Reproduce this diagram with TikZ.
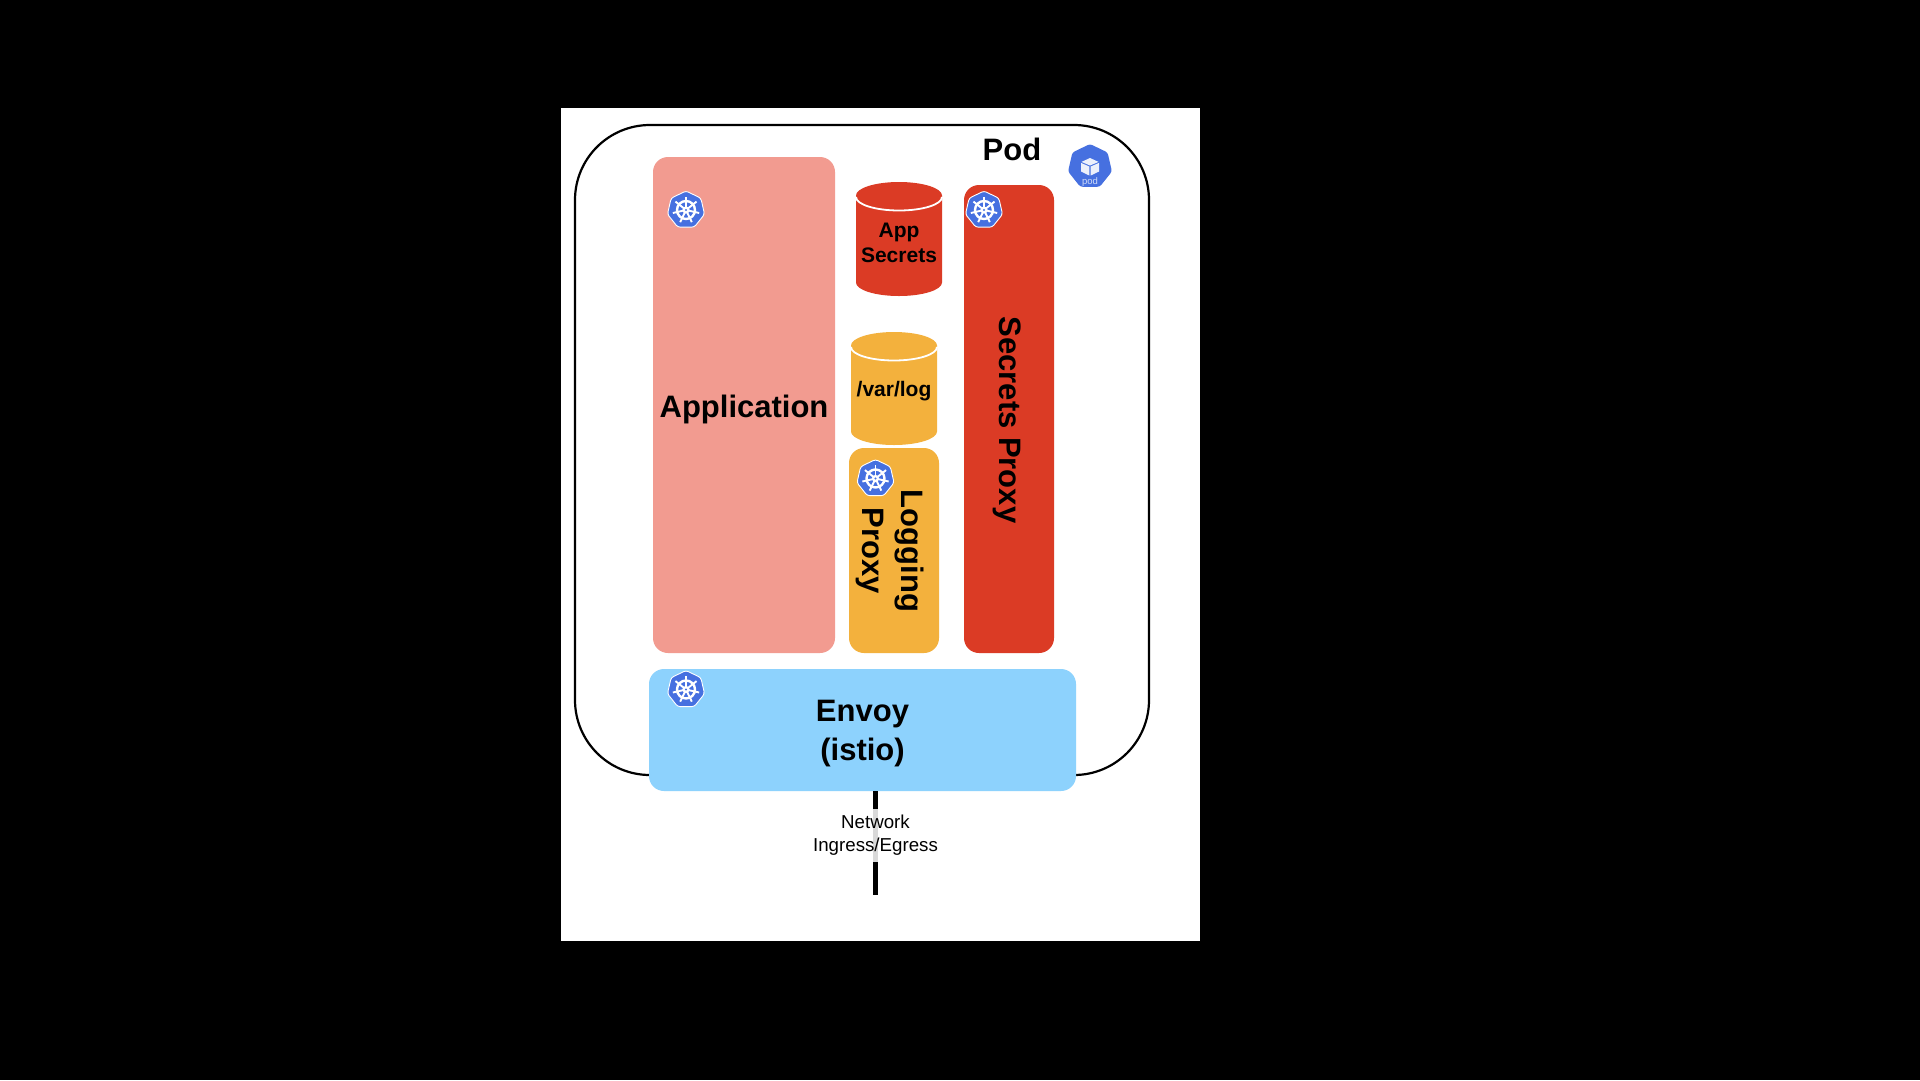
\documentclass[tikz,border=0pt]{standalone}
\usepackage{fontspec}
\setmainfont{Liberation Sans}
\definecolor{appcol}{HTML}{F29B90}
\definecolor{redcol}{HTML}{DB3B25}
\definecolor{orangecol}{HTML}{F3B13D}
\definecolor{bluecol}{HTML}{8DD2FD}
\definecolor{kubecol}{HTML}{4670E0}
\tikzset{
  box/.style={rounded corners=15pt,inner sep=0pt,align=center},
  big/.style={font=\fontsize{31}{39}\selectfont\bfseries,text=black,align=center,inner sep=0pt},
  mid/.style={font=\fontsize{21}{25}\selectfont\bfseries,text=black,align=center,inner sep=0pt},
  wheelicon/.pic={
    \fill[kubecol,draw=white,line width=0.9pt,rounded corners=2.5pt]
      (-90:19) -- (-38.57:19) -- (12.86:19) -- (64.29:19) -- (115.71:19) -- (167.14:19) -- (218.57:19) -- cycle;
    \draw[white,line width=2.4pt] (0,0) circle (9);
    \fill[white] (0,0) circle (3.6);
    \fill[kubecol] (0,0) circle (1.1);
    \foreach \a in {-90,-38.57,12.86,64.29,115.71,167.14,218.57}{
      \draw[white,line width=1.9pt] (\a:2.5) -- (\a:13.5);
    }
  },
  podicon/.pic={
    \fill[kubecol,rounded corners=2.5pt]
      (-90:22.5) -- (-38.57:22.5) -- (12.86:22.5) -- (64.29:22.5) -- (115.71:22.5) -- (167.14:22.5) -- (218.57:22.5) -- cycle;
    \fill[white,opacity=.9] (0,-8.5) -- (8.5,-4.6) -- (0,-1) -- (-8.5,-4.6) -- cycle;
    \fill[white,opacity=.9] (-9,-3.6) -- (-0.7,0) -- (-0.7,9) -- (-9,5) -- cycle;
    \fill[white,opacity=.9] (9,-3.6) -- (0.7,0) -- (0.7,9) -- (9,5) -- cycle;
    \node[text=white,opacity=.75,font=\fontsize{9.5}{10}\selectfont,inner sep=0pt] at (0,15.5) {pod};
  }
}
\begin{document}
\begin{tikzpicture}[x=1pt,y=-1pt]
\useasboundingbox (0,0) rectangle (1920,1080);
\fill[black] (0,0) rectangle (1920,1080);
\fill[white] (561,108) rectangle (1200,941);

% Pod outline
\node[draw=black,line width=2.2pt,rounded corners=75pt,minimum width=574pt,minimum height=650pt,inner sep=0pt] (podbox) at (862,450) {};
\node[big] (podlabel) at (1012,149.5) {Pod};
\pic at (1090,166.5) {podicon};

% Containers
\node[box,fill=appcol,minimum width=182pt,minimum height=496pt,big,text depth=0pt] (application) at (744,405) {\raisebox{-2pt}{Application}};
\node[box,fill=redcol,rotate=-90,minimum width=468pt,minimum height=90pt] (secretsproxy) at (1009,419) {};
\node[big,rotate=-90] (secretslabel) at (1007.5,420) {Secrets Proxy};
\node[box,fill=orangecol,minimum width=90pt,minimum height=205pt] (loggingproxy) at (894,550.5) {};
\node[big,rotate=-90] (logginglabel) at (890.5,551) {Logging\\Proxy};

% App Secrets cylinder
\fill[redcol] (899,195.5) ellipse [x radius=43,y radius=13.5];
\fill[redcol] (856,195.5) -- (942,195.5) -- (942,282.5)
  arc[x radius=43,y radius=13.5,start angle=0,end angle=180] -- cycle;
\draw[white,line width=1.8pt] (856,197) arc[x radius=43,y radius=13.5,start angle=180,end angle=0];
\node[mid] (appsecrets) at (899,242.5) {App\\Secrets};

% /var/log cylinder
\fill[orangecol] (894,345.5) ellipse [x radius=43,y radius=13.5];
\fill[orangecol] (851,345.5) -- (937,345.5) -- (937,431.5)
  arc[x radius=43,y radius=13.5,start angle=0,end angle=180] -- cycle;
\draw[white,line width=1.8pt] (851,347) arc[x radius=43,y radius=13.5,start angle=180,end angle=0];
\node[mid] (varlog) at (894,391) {/var/log};

% Envoy
\node[box,fill=bluecol,minimum width=427pt,minimum height=122pt] (envoy) at (862.5,730) {};
\node[big] (envoylabel) at (862.5,734) {Envoy\\(istio)};

% Network line
\coordinate (netend) at (875.5,895);
\draw[black,line width=5pt] (envoy.south -| netend) -- (netend);
\node[fill=white,fill opacity=.85,text opacity=1,font=\fontsize{18.7}{23}\selectfont,align=center,inner sep=0pt,minimum height=53pt,text=black] (netlabel) at (875.5,835.5) {Network\\Ingress/Egress};

% Icons
\pic at (686,210) {wheelicon};
\pic at (984,210) {wheelicon};
\pic at (875.5,478.5) {wheelicon};
\pic at (686,689.5) {wheelicon};
\end{tikzpicture}
\end{document}
